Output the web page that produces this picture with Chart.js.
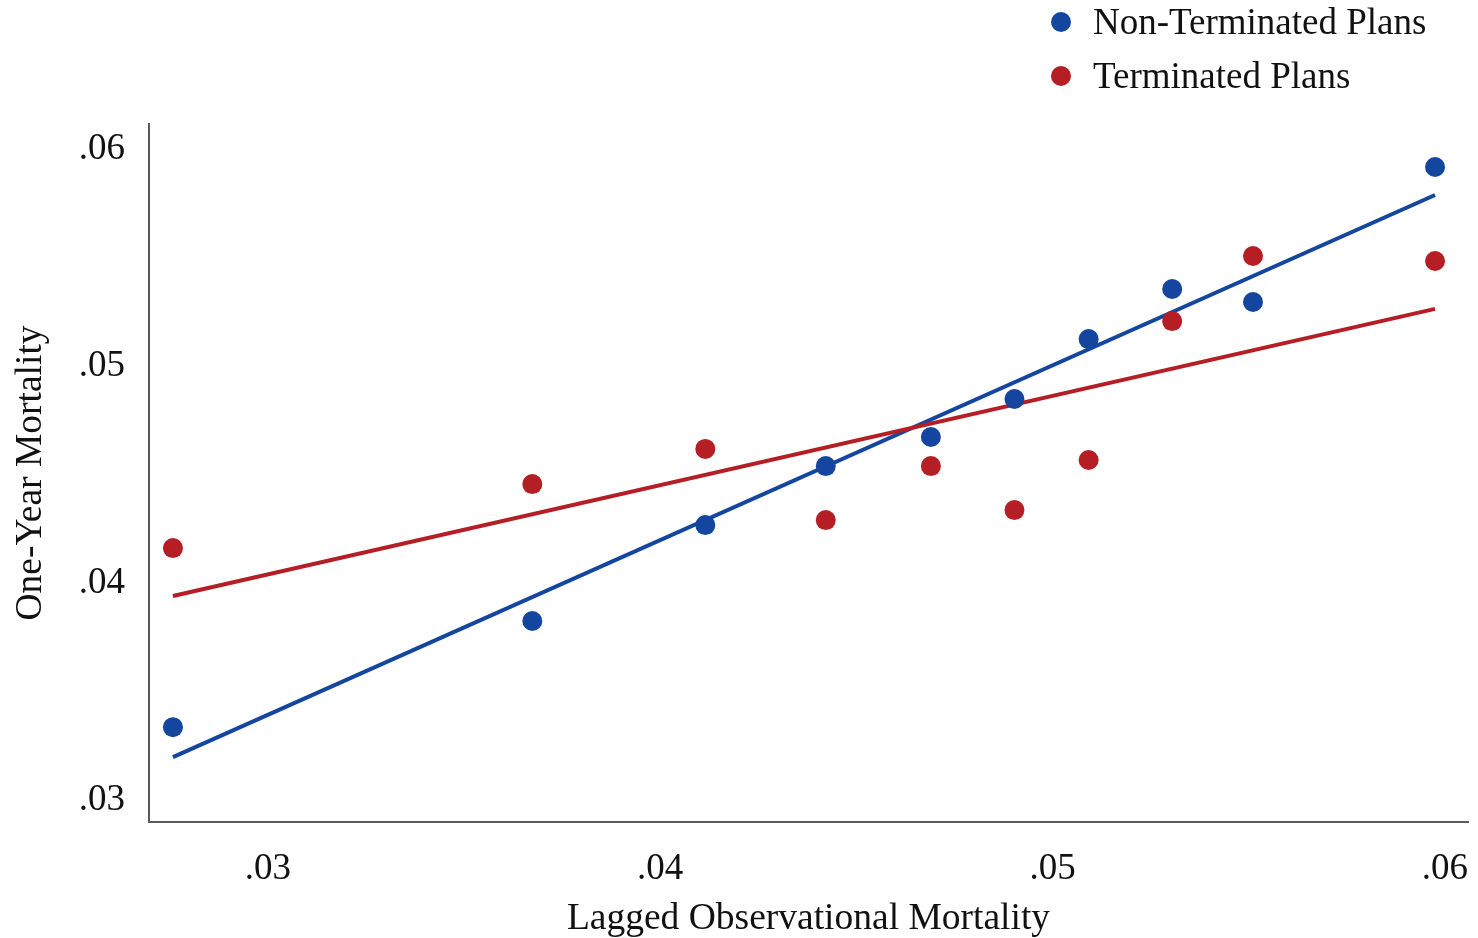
<!DOCTYPE html>
<html>
<head>
<meta charset="utf-8">
<script src="https://cdn.jsdelivr.net/npm/chart.js@4.4.1/dist/chart.umd.min.js"></script>
<style>
  html, body { margin: 0; padding: 0; background: #ffffff; }
  #wrap { width: 1478px; height: 938px; }
</style>
</head>
<body>
<div id="wrap"><canvas id="c" width="1478" height="938"></canvas></div>
<script>
// Binned means: lagged observational mortality (x) vs one-year mortality (y)
const lagged = [0.02758, 0.03674, 0.04115, 0.04422, 0.04690, 0.04903, 0.05092, 0.05305, 0.05511, 0.05975];
const nonTerminated = [0.03336, 0.03825, 0.04267, 0.04539, 0.04673, 0.04848, 0.05124, 0.05355, 0.05295, 0.05917];
const terminated = [0.04161, 0.04456, 0.04618, 0.04290, 0.04539, 0.04336, 0.04567, 0.05207, 0.05507, 0.05484];

// Linear fit lines (endpoints)
const fitX = [0.02758, 0.05975];
const fitNonTerminated = [0.03198, 0.05788];
const fitTerminated = [0.03940, 0.05263];

// Axis ticks
const xTicks = [0.03, 0.04, 0.05, 0.06];
const yTicks = [0.03, 0.04, 0.05, 0.06];
const xTickLabels = ['.03', '.04', '.05', '.06'];
const yTickLabels = ['.03', '.04', '.05', '.06'];

const seriesNames = ['Non-Terminated Plans', 'Terminated Plans'];
const BLUE = '#1446A0';
const RED = '#B41E24';
const FONT = '"Liberation Serif", "Times New Roman", serif';

const toPoints = (xs, ys) => xs.map((x, i) => ({ x: x, y: ys[i] }));

// Legend drawn as a stacked list at the upper right
const stackedLegend = {
  id: 'stackedLegend',
  afterDraw(chart) {
    const ctx = chart.ctx;
    const items = chart.data.datasets.filter(d => d.type !== 'line');
    ctx.save();
    ctx.font = '37px ' + FONT;
    ctx.textBaseline = 'middle';
    ctx.textAlign = 'left';
    items.forEach((d, i) => {
      const y = 22 + i * 54;
      ctx.beginPath();
      ctx.arc(1061, y, 10, 0, Math.PI * 2);
      ctx.fillStyle = d.backgroundColor;
      ctx.fill();
      ctx.fillStyle = '#111111';
      ctx.fillText(d.label, 1093, y + 2);
    });
    ctx.restore();
  }
};

new Chart(document.getElementById('c'), {
  type: 'scatter',
  data: {
    datasets: [
      {
        label: seriesNames[0] + ' fit',
        type: 'line',
        data: toPoints(fitX, fitNonTerminated),
        borderColor: BLUE,
        borderWidth: 4,
        pointRadius: 0,
        fill: false,
        order: 3
      },
      {
        label: seriesNames[1] + ' fit',
        type: 'line',
        data: toPoints(fitX, fitTerminated),
        borderColor: RED,
        borderWidth: 4,
        pointRadius: 0,
        fill: false,
        order: 2
      },
      {
        label: seriesNames[0],
        data: toPoints(lagged, nonTerminated),
        backgroundColor: BLUE,
        borderColor: BLUE,
        borderWidth: 0,
        pointRadius: 10,
        order: 1
      },
      {
        label: seriesNames[1],
        data: toPoints(lagged, terminated),
        backgroundColor: RED,
        borderColor: RED,
        borderWidth: 0,
        pointRadius: 10,
        order: 0
      }
    ]
  },
  options: {
    responsive: false,
    animation: false,
    devicePixelRatio: 1,
    layout: { padding: { top: 124, right: 6, left: 0, bottom: 0 } },
    plugins: {
      legend: { display: false },
      tooltip: { enabled: false }
    },
    scales: {
      x: {
        type: 'linear',
        min: 0.02697,
        max: 0.06059,
        grid: { display: false, drawTicks: false },
        border: { display: true, color: '#5a5a5a', width: 2 },
        afterBuildTicks: s => { s.ticks = xTicks.map(v => ({ value: v })); },
        afterFit: s => { s.height = 116; s.paddingLeft = 0; s.paddingRight = 0; },
        ticks: {
          padding: 25,
          color: '#111111',
          font: { family: FONT, size: 37 },
          maxRotation: 0,
          callback: v => xTickLabels[xTicks.findIndex(t => Math.abs(t - v) < 1e-9)]
        },
        title: {
          display: true,
          text: 'Lagged Observational Mortality',
          color: '#111111',
          font: { family: FONT, size: 37.5 },
          padding: { top: 0, bottom: -4 }
        }
      },
      y: {
        type: 'linear',
        min: 0.02899,
        max: 0.06115,
        grid: { display: false, drawTicks: false },
        border: { display: true, color: '#5a5a5a', width: 2 },
        afterBuildTicks: s => { s.ticks = yTicks.map(v => ({ value: v })); },
        afterFit: s => { s.width = 149; s.paddingTop = 0; s.paddingBottom = 0; },
        ticks: {
          padding: 24,
          color: '#111111',
          font: { family: FONT, size: 37 },
          callback: v => yTickLabels[yTicks.findIndex(t => Math.abs(t - v) < 1e-9)]
        },
        title: {
          display: true,
          text: 'One-Year Mortality',
          color: '#111111',
          font: { family: FONT, size: 37.5 },
          padding: { top: 9, bottom: 0 }
        }
      }
    }
  },
  plugins: [stackedLegend]
});
</script>
</body>
</html>
